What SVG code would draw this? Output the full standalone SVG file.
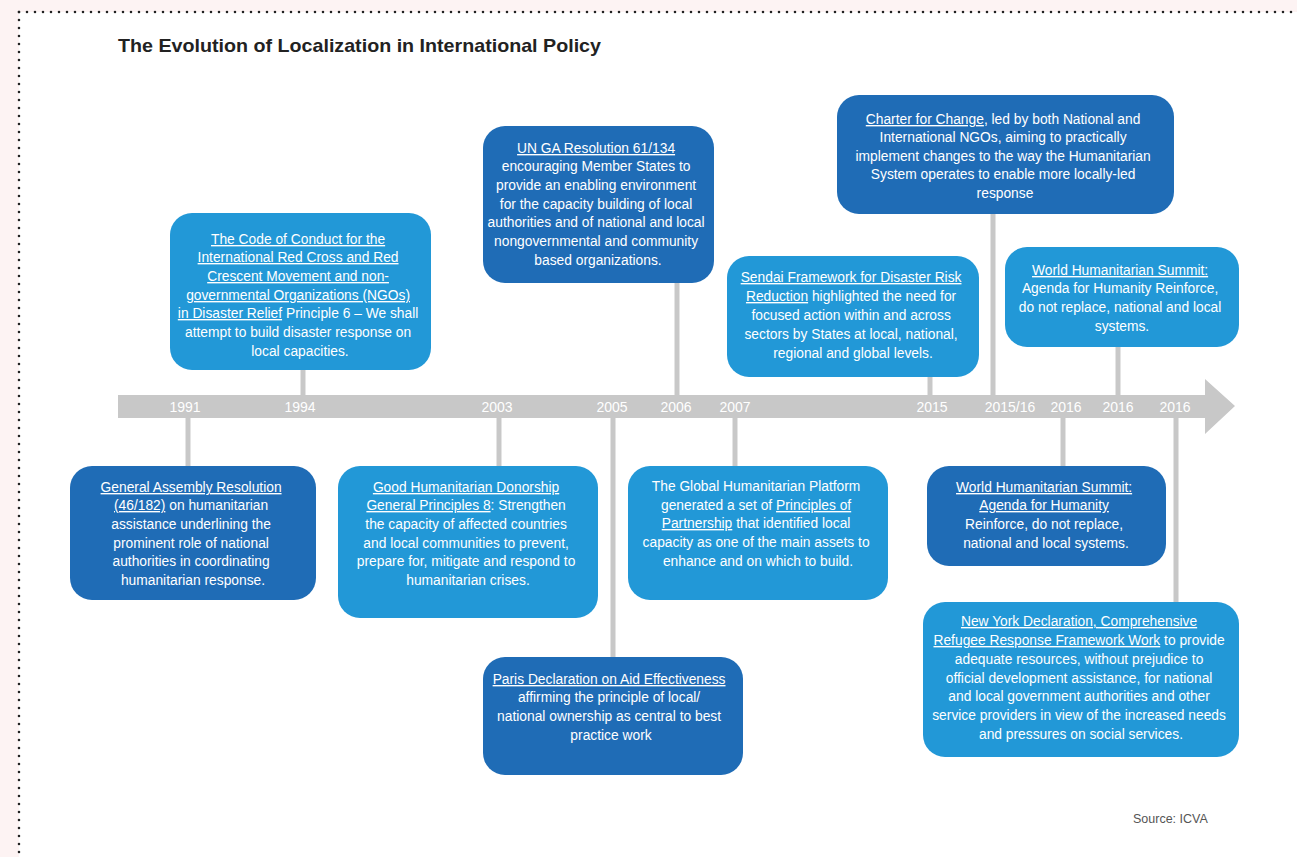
<svg xmlns="http://www.w3.org/2000/svg" width="1297" height="857" viewBox="0 0 1297 857">
  <style>
    .box-dark { fill: #1f6cb6; }
    .box-light { fill: #2298d7; }
    .txt { font-family: "Liberation Sans", Arial, sans-serif; font-size: 13.8px; fill: #ffffff; text-anchor: middle; }
    .u { text-decoration: underline; }
    .year { font-family: "Liberation Sans", Arial, sans-serif; font-size: 14px; fill: #ffffff; text-anchor: middle; }
    .stem { stroke: #c8c8c8; stroke-width: 5; fill: none; }
    .title { font-family: "Liberation Sans", Arial, sans-serif; font-size: 19px; font-weight: bold; fill: #222222; }
    .source { font-family: "Liberation Sans", Arial, sans-serif; font-size: 12.5px; fill: #555555; }
    .dots { stroke: #222222; stroke-width: 2.6; stroke-linecap: round; stroke-dasharray: 0 8; fill: none; }
  </style>

  <!-- page background and dotted frame -->
  <rect x="0" y="0" width="1297" height="857" fill="#fdf3f3"/>
  <rect x="19" y="12" width="1278" height="845" fill="#ffffff"/>
  <line class="dots" x1="19" y1="12" x2="1297" y2="12"/>
  <line class="dots" x1="19" y1="12" x2="19" y2="857"/>

  <text class="title" x="118" y="52" textLength="483" lengthAdjust="spacingAndGlyphs">The Evolution of Localization in International Policy</text>

  <!-- timeline arrow -->
  <g id="timeline">
    <polygon points="118,395 1205,395 1205,379 1235,406 1205,434 1205,418 118,418" fill="#c8c8c8"/>
    <text class="year" x="185" y="412">1991</text>
    <text class="year" x="300" y="412">1994</text>
    <text class="year" x="497" y="412">2003</text>
    <text class="year" x="612" y="412">2005</text>
    <text class="year" x="676" y="412">2006</text>
    <text class="year" x="735" y="412">2007</text>
    <text class="year" x="932" y="412">2015</text>
    <text class="year" x="1010" y="412">2015/16</text>
    <text class="year" x="1066" y="412">2016</text>
    <text class="year" x="1118" y="412">2016</text>
    <text class="year" x="1175" y="412">2016</text>
  </g>

  <!-- connectors from the timeline to each event -->
  <g id="connectors">
    <line class="stem" x1="188" y1="418" x2="188" y2="468"/>
    <line class="stem" x1="303" y1="368" x2="303" y2="395"/>
    <line class="stem" x1="499" y1="418" x2="499" y2="468"/>
    <line class="stem" x1="613" y1="418" x2="613" y2="659"/>
    <line class="stem" x1="677" y1="281" x2="677" y2="395"/>
    <line class="stem" x1="735" y1="418" x2="735" y2="468"/>
    <line class="stem" x1="930" y1="375" x2="930" y2="395"/>
    <line class="stem" x1="993" y1="212" x2="993" y2="395"/>
    <line class="stem" x1="1063" y1="418" x2="1063" y2="468"/>
    <line class="stem" x1="1118" y1="345" x2="1118" y2="395"/>
    <line class="stem" x1="1176" y1="418" x2="1176" y2="604"/>
  </g>

  <!-- events above the timeline -->
  <g id="code-of-conduct">
    <rect class="box-light" x="170" y="213" width="261" height="157" rx="22"/>
    <text class="txt">
      <tspan x="300" y="244"><tspan class="u">The Code of Conduct for the</tspan></tspan>
      <tspan x="300" y="262"><tspan class="u">International Red Cross and Red</tspan></tspan>
      <tspan x="300" y="281"><tspan class="u">Crescent Movement and non-</tspan></tspan>
      <tspan x="300" y="300"><tspan class="u">governmental Organizations (NGOs)</tspan></tspan>
      <tspan x="300" y="318"><tspan class="u">in Disaster Relief</tspan> Principle 6 – We shall</tspan>
      <tspan x="300" y="337">attempt to build disaster response on</tspan>
      <tspan x="300" y="356">local capacities.</tspan>
    </text>
  </g>

  <g id="un-ga-resolution">
    <rect class="box-dark" x="483" y="126" width="231" height="157" rx="22"/>
    <text class="txt">
      <tspan x="598" y="153"><tspan class="u">UN GA Resolution 61/134</tspan></tspan>
      <tspan x="598" y="171">encouraging Member States to</tspan>
      <tspan x="598" y="190">provide an enabling environment</tspan>
      <tspan x="598" y="209">for the capacity building of local</tspan>
      <tspan x="598" y="227">authorities and of national and local</tspan>
      <tspan x="598" y="246">nongovernmental and community</tspan>
      <tspan x="598" y="265">based organizations.</tspan>
    </text>
  </g>

  <g id="charter-for-change">
    <rect class="box-dark" x="837" y="95" width="337" height="119" rx="22"/>
    <text class="txt">
      <tspan x="1005" y="124"><tspan class="u">Charter for Change</tspan>, led by both National and</tspan>
      <tspan x="1005" y="142">International NGOs, aiming to practically</tspan>
      <tspan x="1005" y="161">implement changes to the way the Humanitarian</tspan>
      <tspan x="1005" y="179">System operates to enable more locally-led</tspan>
      <tspan x="1005" y="198">response</tspan>
    </text>
  </g>

  <g id="sendai-framework">
    <rect class="box-light" x="727" y="256" width="252" height="121" rx="22"/>
    <text class="txt">
      <tspan x="853" y="282"><tspan class="u">Sendai Framework for Disaster Risk</tspan></tspan>
      <tspan x="853" y="301"><tspan class="u">Reduction</tspan> highlighted the need for</tspan>
      <tspan x="853" y="320">focused action within and across</tspan>
      <tspan x="853" y="339">sectors by States at local, national,</tspan>
      <tspan x="853" y="358">regional and global levels.</tspan>
    </text>
  </g>

  <g id="whs-reinforce">
    <rect class="box-light" x="1005" y="247" width="234" height="100" rx="22"/>
    <text class="txt">
      <tspan x="1122" y="275"><tspan class="u">World Humanitarian Summit:</tspan></tspan>
      <tspan x="1122" y="293">Agenda for Humanity Reinforce,</tspan>
      <tspan x="1122" y="312">do not replace, national and local</tspan>
      <tspan x="1122" y="331">systems.</tspan>
    </text>
  </g>

  <!-- events below the timeline -->
  <g id="general-assembly">
    <rect class="box-dark" x="70" y="466" width="246" height="134" rx="22"/>
    <text class="txt">
      <tspan x="193" y="492"><tspan class="u">General Assembly Resolution</tspan></tspan>
      <tspan x="193" y="510"><tspan class="u">(46/182)</tspan> on humanitarian</tspan>
      <tspan x="193" y="529">assistance underlining the</tspan>
      <tspan x="193" y="548">prominent role of national</tspan>
      <tspan x="193" y="566">authorities in coordinating</tspan>
      <tspan x="193" y="585">humanitarian response.</tspan>
    </text>
  </g>

  <g id="good-humanitarian-donorship">
    <rect class="box-light" x="338" y="466" width="260" height="152" rx="22"/>
    <text class="txt">
      <tspan x="468" y="492"><tspan class="u">Good Humanitarian Donorship</tspan></tspan>
      <tspan x="468" y="510"><tspan class="u">General Principles 8</tspan>: Strengthen</tspan>
      <tspan x="468" y="529">the capacity of affected countries</tspan>
      <tspan x="468" y="548">and local communities to prevent,</tspan>
      <tspan x="468" y="566">prepare for, mitigate and respond to</tspan>
      <tspan x="468" y="585">humanitarian crises.</tspan>
    </text>
  </g>

  <g id="global-humanitarian-platform">
    <rect class="box-light" x="628" y="466" width="260" height="134" rx="22"/>
    <text class="txt">
      <tspan x="758" y="491">The Global Humanitarian Platform</tspan>
      <tspan x="758" y="510">generated a set of <tspan class="u">Principles of</tspan></tspan>
      <tspan x="758" y="528"><tspan class="u">Partnership</tspan> that identified local</tspan>
      <tspan x="758" y="547">capacity as one of the main assets to</tspan>
      <tspan x="758" y="566">enhance and on which to build.</tspan>
    </text>
  </g>

  <g id="paris-declaration">
    <rect class="box-dark" x="483" y="657" width="260" height="118" rx="22"/>
    <text class="txt">
      <tspan x="611" y="684"><tspan class="u">Paris Declaration on Aid Effectiveness</tspan></tspan>
      <tspan x="611" y="702">affirming the principle of local/</tspan>
      <tspan x="611" y="721">national ownership as central to best</tspan>
      <tspan x="611" y="740">practice work</tspan>
    </text>
  </g>

  <g id="whs-agenda">
    <rect class="box-dark" x="927" y="466" width="239" height="100" rx="22"/>
    <text class="txt">
      <tspan x="1046" y="492"><tspan class="u">World Humanitarian Summit:</tspan></tspan>
      <tspan x="1046" y="510"><tspan class="u">Agenda for Humanity</tspan></tspan>
      <tspan x="1046" y="529">Reinforce, do not replace,</tspan>
      <tspan x="1046" y="548">national and local systems.</tspan>
    </text>
  </g>

  <g id="new-york-declaration">
    <rect class="box-light" x="923" y="602" width="316" height="155" rx="22"/>
    <text class="txt">
      <tspan x="1081" y="626"><tspan class="u">New York Declaration, Comprehensive</tspan></tspan>
      <tspan x="1081" y="645"><tspan class="u">Refugee Response Framework Work</tspan> to provide</tspan>
      <tspan x="1081" y="664">adequate resources, without prejudice to</tspan>
      <tspan x="1081" y="683">official development assistance, for national</tspan>
      <tspan x="1081" y="701">and local government authorities and other</tspan>
      <tspan x="1081" y="720">service providers in view of the increased needs</tspan>
      <tspan x="1081" y="739">and pressures on social services.</tspan>
    </text>
  </g>

  <text class="source" x="1133" y="823">Source: ICVA</text>
</svg>
